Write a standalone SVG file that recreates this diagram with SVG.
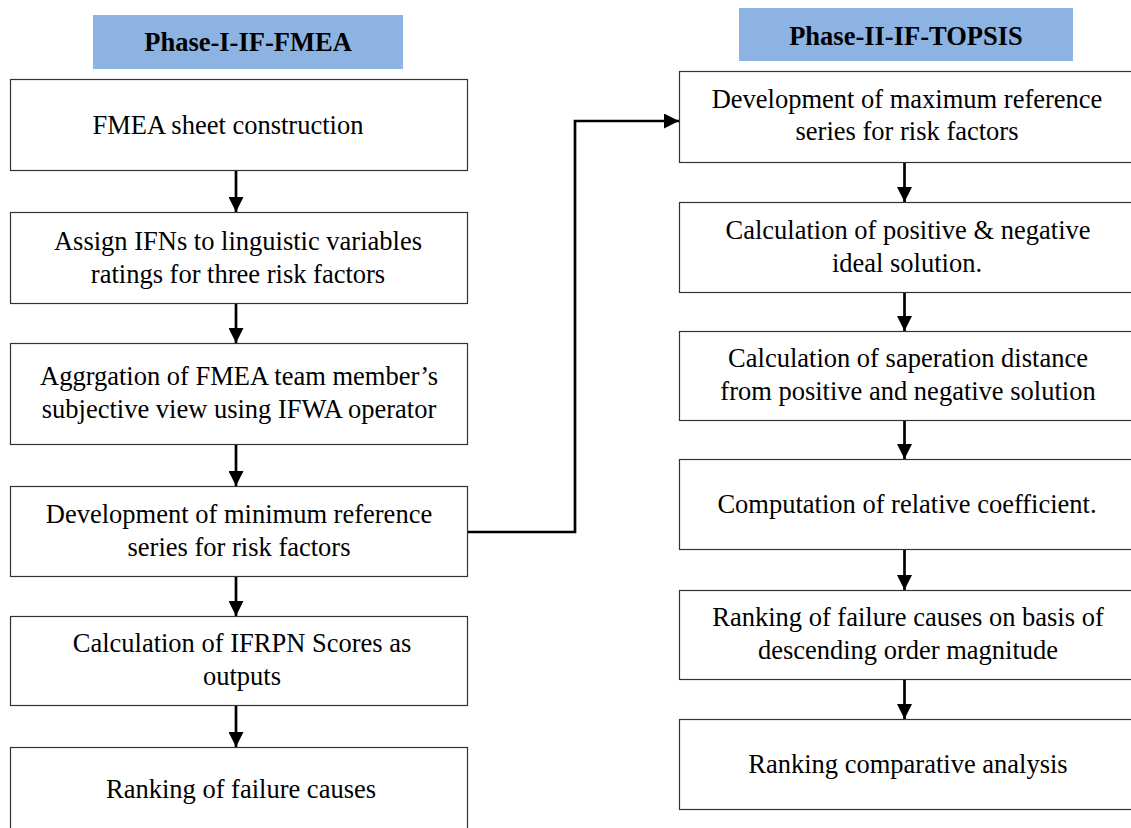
<svg xmlns="http://www.w3.org/2000/svg" width="1131" height="828" viewBox="0 0 1131 828">
<style>
.hdr{fill:#8DB3E2}
.hdrt{font-family:"Liberation Serif","Times New Roman",serif;font-weight:bold;font-size:26.5px;fill:#000;text-anchor:middle}
.box{fill:#fff;stroke:#333;stroke-width:1.2}
.t{font-family:"Liberation Serif","Times New Roman",serif;font-size:26.5px;fill:#000;text-anchor:middle}
.c{fill:none;stroke:#000;stroke-width:2.7}
</style>
<defs>
<marker id="ah" markerWidth="15" markerHeight="15" refX="15" refY="7.5" orient="auto" markerUnits="userSpaceOnUse" viewBox="0 0 15 15">
<path d="M0,0 L15,7.5 L0,15 Z" fill="#000"/>
</marker>
</defs>
<rect width="1131" height="828" fill="#fff"/>

<g id="hdr1"><rect class="hdr" x="93" y="15" width="310" height="54"/><text class="hdrt" x="248" y="51">Phase-I-IF-FMEA</text></g>
<g id="hdr2"><rect class="hdr" x="739" y="8" width="334" height="53"/><text class="hdrt" x="906" y="45">Phase-II-IF-TOPSIS</text></g>

<g id="L1"><rect class="box" x="10.5" y="79.5" width="457" height="91"/><text class="t" x="228" y="134">FMEA sheet construction</text></g>
<g id="L2"><rect class="box" x="10.5" y="212.5" width="457" height="91"/><text class="t" x="238" y="250">Assign IFNs to linguistic variables</text><text class="t" x="238" y="283">ratings for three risk factors</text></g>
<g id="L3"><rect class="box" x="10.5" y="343.5" width="457" height="101"/><text class="t" x="239" y="385">Aggrgation of FMEA team member’s</text><text class="t" x="239" y="418">subjective view using IFWA operator</text></g>
<g id="L4"><rect class="box" x="10.5" y="486.5" width="457" height="90"/><text class="t" x="239" y="523">Development of minimum reference</text><text class="t" x="239" y="556">series for risk factors</text></g>
<g id="L5"><rect class="box" x="10.5" y="616.5" width="457" height="89"/><text class="t" x="242" y="652">Calculation of IFRPN Scores as</text><text class="t" x="242" y="685">outputs</text></g>
<g id="L6"><rect class="box" x="10.5" y="747.5" width="457" height="90"/><text class="t" x="241" y="798">Ranking of failure causes</text></g>

<g id="R1"><rect class="box" x="679.5" y="71.5" width="460" height="91"/><text class="t" x="907" y="108">Development of maximum reference</text><text class="t" x="907" y="140">series for risk factors</text></g>
<g id="R2"><rect class="box" x="679.5" y="202.5" width="460" height="90"/><text class="t" x="908" y="239">Calculation of positive &amp; negative</text><text class="t" x="907" y="272">ideal solution.</text></g>
<g id="R3"><rect class="box" x="679.5" y="331.5" width="460" height="89"/><text class="t" x="908" y="367">Calculation of saperation distance</text><text class="t" x="908" y="400">from positive and negative solution</text></g>
<g id="R4"><rect class="box" x="679.5" y="459.5" width="460" height="90"/><text class="t" x="907" y="513">Computation of relative coefficient.</text></g>
<g id="R5"><rect class="box" x="679.5" y="590.5" width="460" height="89"/><text class="t" x="908" y="626">Ranking of failure causes on basis of</text><text class="t" x="908" y="659">descending order magnitude</text></g>
<g id="R6"><rect class="box" x="679.5" y="719.5" width="460" height="90"/><text class="t" x="908" y="773">Ranking comparative analysis</text></g>

<g id="connectors">
<path class="c" d="M236,171 V212" marker-end="url(#ah)"/>
<path class="c" d="M236,304 V343" marker-end="url(#ah)"/>
<path class="c" d="M236,445 V486" marker-end="url(#ah)"/>
<path class="c" d="M236,577 V616" marker-end="url(#ah)"/>
<path class="c" d="M236,706 V747" marker-end="url(#ah)"/>
<path class="c" d="M468,532 H575 V121 H679" marker-end="url(#ah)"/>
<path class="c" d="M904.5,163 V202" marker-end="url(#ah)"/>
<path class="c" d="M904.5,293 V331" marker-end="url(#ah)"/>
<path class="c" d="M904.5,421 V459" marker-end="url(#ah)"/>
<path class="c" d="M904.5,550 V590" marker-end="url(#ah)"/>
<path class="c" d="M904.5,680 V719" marker-end="url(#ah)"/>
</g>
</svg>
